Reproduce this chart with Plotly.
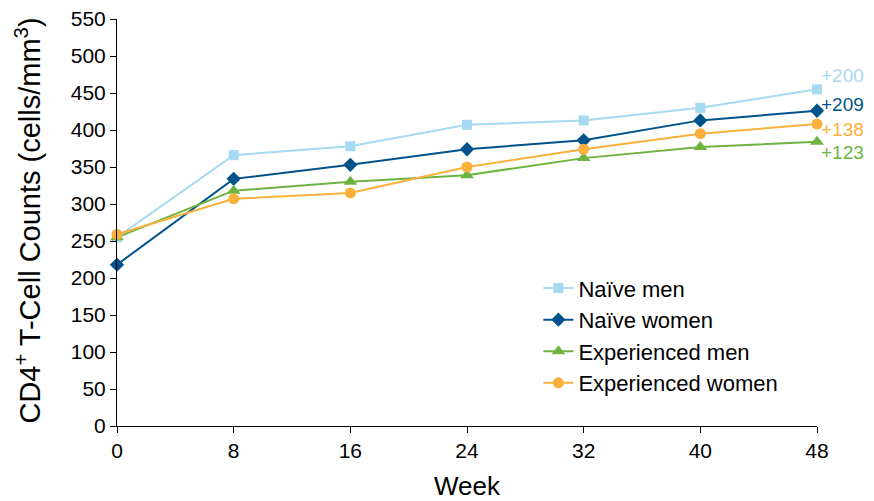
import plotly.graph_objects as go

weeks = [0, 8, 16, 24, 32, 40, 48]
naive_men = [255, 366, 378, 407, 413, 430, 455]
naive_women = [218, 334, 353, 374, 386, 413, 426]
exp_men = [255, 318, 330, 339, 362, 377, 384]
exp_women = [259, 307, 315, 350, 374, 395, 408]
y_ticks = [0, 50, 100, 150, 200, 250, 300, 350, 400, 450, 500, 550]
change_labels = ["+200", "+209", "+123", "+138"]
label_y = [473, 434, 369, 401]

series = [
    ("Naïve men", naive_men, "#A6D9F2", "square", 10),
    ("Naïve women", naive_women, "#00538A", "diamond", 11),
    ("Experienced men", exp_men, "#6DB33F", "triangle-up", 12),
    ("Experienced women", exp_women, "#FBB03B", "circle", 11),
]

fig = go.Figure()
for name, vals, color, sym, size in series:
    fig.add_trace(go.Scatter(
        x=weeks, y=vals, name=name, mode="lines+markers",
        line=dict(color=color, width=2),
        marker=dict(symbol=sym, size=size, color=color),
        cliponaxis=False,
    ))

for (name, vals, color, sym, size), lab, ly in zip(series, change_labels, label_y):
    fig.add_annotation(x=48, y=ly, text=lab, showarrow=False, xanchor="left",
                       xshift=2, font=dict(color=color, size=19))

# y-axis title as a rotated annotation for exact placement
fig.add_annotation(xref="paper", yref="paper", x=-0.127, y=0.505,
                   text="CD4<sup>+</sup> T-Cell Counts (cells/mm<sup>3</sup>)",
                   textangle=-90, showarrow=False, xanchor="center", yanchor="middle",
                   borderpad=0, font=dict(size=29))

# page body has an 8px margin, so the figure is sized to fit the 874x501 window
fig.update_layout(
    width=866, height=493,
    margin=dict(l=109, r=57, t=11, b=75),
    plot_bgcolor="white", paper_bgcolor="white",
    font=dict(family="Liberation Sans, Arial, sans-serif", color="black", size=21),
    legend=dict(x=0.602, y=0.39, xanchor="left", yanchor="top",
                font=dict(size=22), bgcolor="rgba(0,0,0,0)", tracegroupgap=0),
    showlegend=True,
)
fig.update_xaxes(range=[0, 48], tickvals=weeks, showline=True, linecolor="black",
                 linewidth=1, ticks="outside", ticklen=6, tickcolor="black",
                 showgrid=False, zeroline=False, automargin=False,
                 tickfont=dict(size=21), ticklabeloverflow="allow",
                 title=dict(text="Week", font=dict(size=26), standoff=16))
fig.update_yaxes(range=[0, 550], tickvals=y_ticks, showline=True, linecolor="black",
                 linewidth=1, ticks="outside", ticklen=6, tickcolor="black",
                 showgrid=False, zeroline=False, automargin=False,
                 tickfont=dict(size=21), ticklabeloverflow="allow")

fig.write_html("out.html")
